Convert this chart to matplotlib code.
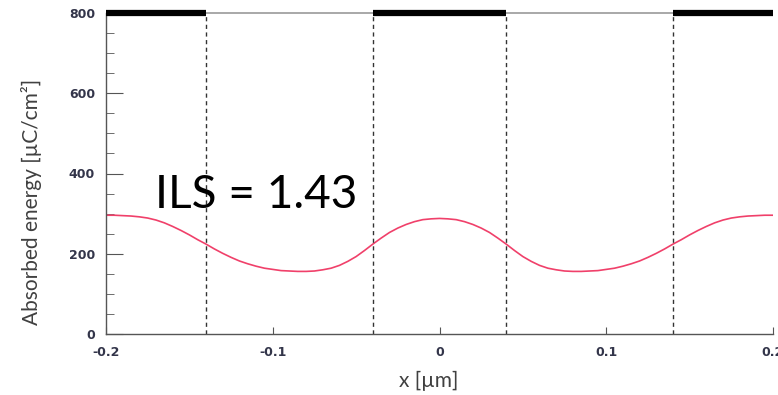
import numpy as np
from matplotlib import pyplot as plt
from matplotlib.ticker import MultipleLocator

# Absorbed energy profile (x in um, energy in uC/cm^2)
x_um = [-0.200, -0.195, -0.190, -0.185, -0.180, -0.175, -0.170, -0.165, -0.160, -0.155,
        -0.150, -0.145, -0.140, -0.135, -0.130, -0.125, -0.120, -0.115, -0.110, -0.105,
        -0.100, -0.095, -0.090, -0.085, -0.080, -0.075, -0.070, -0.065, -0.060, -0.055,
        -0.050, -0.045, -0.040, -0.035, -0.030, -0.025, -0.020, -0.015, -0.010, -0.005,
        0.000, 0.005, 0.010, 0.015, 0.020, 0.025, 0.030, 0.035, 0.040, 0.045,
        0.050, 0.055, 0.060, 0.065, 0.070, 0.075, 0.080, 0.085, 0.090, 0.095,
        0.100, 0.105, 0.110, 0.115, 0.120, 0.125, 0.130, 0.135, 0.140, 0.145,
        0.150, 0.155, 0.160, 0.165, 0.170, 0.175, 0.180, 0.185, 0.190, 0.195, 0.200]
energy = [296, 296, 295, 294, 292, 289, 284, 277, 268, 258,
          247, 235, 224, 212, 201, 191, 182, 175, 169, 164,
          161, 158, 157, 156, 156, 157, 160, 164, 171, 181,
          193, 208, 224, 239, 253, 264, 273, 280, 285, 287,
          288, 287, 285, 280, 273, 264, 253, 239, 224, 208,
          193, 181, 171, 164, 160, 157, 156, 156, 157, 158,
          161, 164, 169, 175, 182, 191, 201, 212, 224, 235,
          247, 258, 268, 277, 284, 289, 292, 294, 295, 296, 296]

# Mask layout: edges (dashed lines) and dark (absorber) segments on top
mask_edges = [-0.14, -0.04, 0.04, 0.14]
dark_segments = [(-0.2, -0.14), (-0.04, 0.04), (0.14, 0.2)]
open_segments = [(-0.14, -0.04), (0.04, 0.14)]
ils_text = "ILS = 1.43"

tick_color = '#33354a'
label_color = '#404040'

fig = plt.figure(figsize=(7.78, 3.95), dpi=100)
ax = fig.add_axes([106/778, 61/395, 667/778, 321/395])

ax.plot(x_um, energy, color='#f0406a', lw=1.2)

for xe in mask_edges:
    ax.axvline(xe, color='#333333', lw=1.0, ls=(0, (3, 2.5)))

for a, b in open_segments:
    ax.plot([a, b], [800, 800], color='#999999', lw=1.2, clip_on=False, zorder=5)
for a, b in dark_segments:
    ax.plot([a, b], [800, 800], color='black', lw=4.5, clip_on=False,
            solid_capstyle='butt', zorder=6)

ax.set_xlim(-0.2, 0.2)
ax.set_ylim(0, 800)
ax.set_xticks([-0.2, -0.1, 0, 0.1, 0.2])
ax.set_xticklabels(['-0.2', '-0.1', '0', '0.1', '0.2'])
ax.set_yticks([0, 200, 400, 600, 800])
ax.yaxis.set_minor_locator(MultipleLocator(50))

for s in ['top', 'right']:
    ax.spines[s].set_visible(False)
for s in ['left', 'bottom']:
    ax.spines[s].set_color('#555555')
    ax.spines[s].set_linewidth(1.0)

ax.tick_params(axis='both', which='major', direction='in', colors='#555555',
               labelcolor=tick_color, labelsize=9)
ax.tick_params(axis='y', which='major', length=12, pad=8)
ax.tick_params(axis='y', which='minor', direction='in', length=6, color='#555555')
ax.tick_params(axis='x', which='major', length=5, pad=9)
for lab in ax.get_xticklabels() + ax.get_yticklabels():
    lab.set_fontweight('bold')

ax.text(-0.1705, 347, ils_text, fontsize=33, family='Lato', color='black',
        va='center', ha='left')

fig.text(32/778, 1 - 202/395, 'Absorbed energy [µC/cm²]', rotation=90,
         ha='center', va='center', fontsize=15, family='Lato', color=label_color)
fig.text(429/778, 1 - 381/395, 'x [µm]', ha='center', va='center',
         fontsize=15, family='Lato', color=label_color)

fig.savefig('out.png', dpi=100)
